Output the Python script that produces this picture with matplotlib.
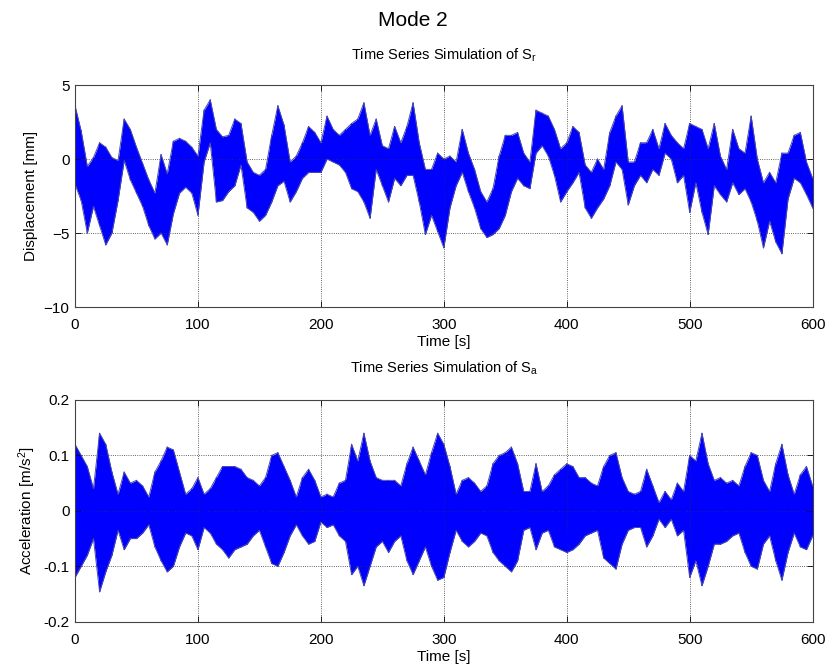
import matplotlib
matplotlib.use('agg')
import matplotlib.pyplot as plt
import numpy as np

# time axis, one reading every 5 s
t = np.arange(0, 605, 5)

# displacement envelope (mm)
disp_upper = [3.6, 1.9, -0.5, 0.1, 1.1, 0.8, 0.1, -0.1, 2.7, 2.0, 0.8, -0.3, -1.4, -2.3, 0.3, -1.0,
              1.2, 1.4, 1.2, 0.8, 0.2, 3.3, 4.0, 2.0, 1.5, 1.6, 2.7, 2.4, -0.2, -0.9, -1.1, -0.7,
              1.6, 3.6, 2.3, -0.2, 0.2, 1.1, 2.2, 1.8, 1.1, 2.9, 2.0, 1.6, 2.0, 2.4, 2.7, 3.8,
              1.6, 2.7, 0.9, 0.7, 2.2, 1.1, 2.2, 3.8, 1.1, -0.7, -0.7, 0.4, 0.0, 0.2, -0.2, 2.0,
              0.4, -0.7, -2.2, -2.9, -2.0, 0.2, 1.6, 1.6, 1.8, 0.4, -0.2, 3.3, 3.1, 2.9, 2.0, 0.7,
              1.1, 2.2, 1.8, -0.4, -0.9, 0.0, -0.7, 1.8, 2.9, 3.6, -0.2, -0.2, 1.1, 1.1, 2.0, 0.7,
              2.4, 1.6, 1.1, 0.7, 2.4, 2.2, 2.0, 0.7, 2.4, 0.2, -0.7, 2.0, 0.7, 0.4, 2.9, 0.0,
              -1.6, -0.9, -1.6, 0.4, 0.4, 1.6, 1.8, -0.2, -1.3]
disp_lower = [-1.7, -2.8, -5.0, -3.2, -4.5, -5.8, -5.0, -2.8, -0.1, -1.4, -2.3, -3.2, -4.5, -5.4, -5.0, -5.8,
              -3.7, -2.3, -1.9, -2.3, -3.8, -0.2, 1.1, -2.9, -2.8, -2.2, -1.8, -0.4, -3.3, -3.6, -4.2, -3.8,
              -2.9, -1.8, -1.5, -2.9, -2.2, -1.3, -0.9, -0.9, -0.9, 0.0, -0.2, -0.4, -0.9, -2.0, -2.2, -2.9,
              -4.0, -0.7, -1.8, -2.9, -1.3, -1.8, -1.1, -1.1, -2.9, -5.1, -3.8, -4.9, -6.0, -3.3, -1.8, -0.9,
              -2.2, -3.3, -4.7, -5.3, -5.1, -4.7, -3.8, -2.2, -1.3, -1.8, -2.0, 0.4, 0.9, 0.2, -1.1, -2.9,
              -2.2, -1.6, -0.9, -3.3, -4.0, -3.3, -2.7, -1.8, -0.2, -0.7, -3.1, -1.8, -1.1, -1.6, -0.7, -1.1,
              0.4, 0.0, -1.6, -1.1, -3.6, -1.6, -3.6, -5.1, -1.8, -2.4, -2.9, -1.6, -2.4, -2.0, -2.9, -4.2,
              -6.0, -4.2, -5.6, -6.4, -2.7, -1.3, -1.6, -2.4, -3.3]

# acceleration envelope (m/s^2)
acc_upper = [0.12, 0.10, 0.08, 0.04, 0.14, 0.12, 0.07, 0.03, 0.07, 0.05, 0.055, 0.045, 0.025, 0.07, 0.09, 0.115,
             0.11, 0.07, 0.03, 0.04, 0.06, 0.03, 0.04, 0.06, 0.08, 0.08, 0.08, 0.075, 0.06, 0.055, 0.045, 0.06,
             0.10, 0.105, 0.08, 0.055, 0.025, 0.06, 0.075, 0.055, 0.025, 0.03, 0.025, 0.05, 0.055, 0.12, 0.09, 0.14,
             0.09, 0.06, 0.055, 0.055, 0.055, 0.045, 0.085, 0.115, 0.09, 0.065, 0.105, 0.14, 0.12, 0.08, 0.03, 0.055,
             0.06, 0.05, 0.035, 0.045, 0.085, 0.10, 0.105, 0.115, 0.085, 0.035, 0.035, 0.085, 0.035, 0.045, 0.065, 0.075,
             0.085, 0.08, 0.06, 0.06, 0.05, 0.045, 0.08, 0.10, 0.105, 0.06, 0.035, 0.03, 0.035, 0.075, 0.045, 0.015,
             0.035, 0.02, 0.05, 0.035, 0.10, 0.09, 0.14, 0.085, 0.055, 0.06, 0.05, 0.055, 0.045, 0.08, 0.105, 0.10,
             0.055, 0.035, 0.085, 0.12, 0.065, 0.03, 0.065, 0.08, 0.045]
acc_lower = [-0.12, -0.10, -0.08, -0.05, -0.146, -0.11, -0.08, -0.035, -0.07, -0.05, -0.05, -0.04, -0.025, -0.065, -0.09, -0.11,
             -0.10, -0.065, -0.04, -0.045, -0.07, -0.03, -0.04, -0.06, -0.07, -0.085, -0.07, -0.065, -0.06, -0.045, -0.035, -0.065,
             -0.095, -0.10, -0.075, -0.045, -0.025, -0.045, -0.06, -0.055, -0.02, -0.03, -0.025, -0.045, -0.055, -0.115, -0.10, -0.135,
             -0.10, -0.065, -0.055, -0.075, -0.055, -0.045, -0.09, -0.115, -0.09, -0.065, -0.10, -0.125, -0.12, -0.075, -0.035, -0.055,
             -0.065, -0.055, -0.04, -0.045, -0.075, -0.09, -0.10, -0.11, -0.09, -0.035, -0.03, -0.07, -0.04, -0.035, -0.065, -0.07,
             -0.075, -0.07, -0.06, -0.045, -0.04, -0.035, -0.085, -0.095, -0.105, -0.06, -0.035, -0.03, -0.03, -0.065, -0.045, -0.015,
             -0.03, -0.015, -0.045, -0.035, -0.12, -0.09, -0.135, -0.10, -0.06, -0.06, -0.055, -0.045, -0.04, -0.075, -0.10, -0.105,
             -0.06, -0.045, -0.09, -0.125, -0.075, -0.04, -0.065, -0.07, -0.045]

plt.rcParams['font.family'] = ['Liberation Sans', 'DejaVu Sans']
plt.rcParams['font.size'] = 11
plt.rcParams['xtick.direction'] = 'in'
plt.rcParams['ytick.direction'] = 'in'


def draw_signal(ax, upper, lower):
    upper = np.asarray(upper)
    lower = np.asarray(lower)
    ax.fill_between(t, lower, upper, color='#0000ff', linewidth=0)
    # zigzag between the envelopes to mimic the dense oscillation
    tz = np.repeat(t, 2)
    yz = np.column_stack([upper, lower]).ravel()
    ax.plot(tz, yz, color='#0000ff', linewidth=0.8)
    ax.plot(t, upper, color='#4a4aa8', linewidth=0.7)
    ax.plot(t, lower, color='#4a4aa8', linewidth=0.7)


def style_axes(ax):
    ax.grid(True, linestyle=':', color='#333333', linewidth=0.6)
    ax.tick_params(top=True, right=True, length=4, width=0.6, labelsize=11)
    ax.tick_params(axis='x', pad=8)
    ax.tick_params(axis='y', pad=4)
    for s in ax.spines.values():
        s.set_color('#444444')
        s.set_linewidth(0.8)
    ax.set_xlim(0, 600)
    ax.set_xticks([0, 100, 200, 300, 400, 500, 600])


fig = plt.figure(figsize=(8.26, 6.68), dpi=100)
ax1 = fig.add_axes([0.0908, 0.5404, 0.893, 0.3323])
ax2 = fig.add_axes([0.0908, 0.0693, 0.893, 0.3319])

draw_signal(ax1, disp_upper, disp_lower)
style_axes(ax1)
ax1.set_ylim(-10, 5)
ax1.set_yticks([-10, -5, 0, 5])
ax1.set_xlabel('Time [s]', labelpad=2)
ax1.set_ylabel('Displacement [mm]')
ax1.set_title('Time Series Simulation of $\\mathregular{S_r}$', fontsize=10.5, pad=18)

draw_signal(ax2, acc_upper, acc_lower)
style_axes(ax2)
ax2.set_ylim(-0.2, 0.2)
ax2.set_yticks([-0.2, -0.1, 0, 0.1, 0.2])
ax2.set_yticklabels(['-0.2', '-0.1', '0', '0.1', '0.2'])
ax2.set_xlabel('Time [s]', labelpad=2)
ax2.set_ylabel('Acceleration [m/s$\\mathregular{^2}$]')
ax2.set_title('Time Series Simulation of $\\mathregular{S_a}$', fontsize=10.5, pad=20)

fig.text(0.5, 1 - 21 / 668, 'Mode 2', ha='center', va='center', fontsize=15)

fig.savefig('out.png', dpi=100)
